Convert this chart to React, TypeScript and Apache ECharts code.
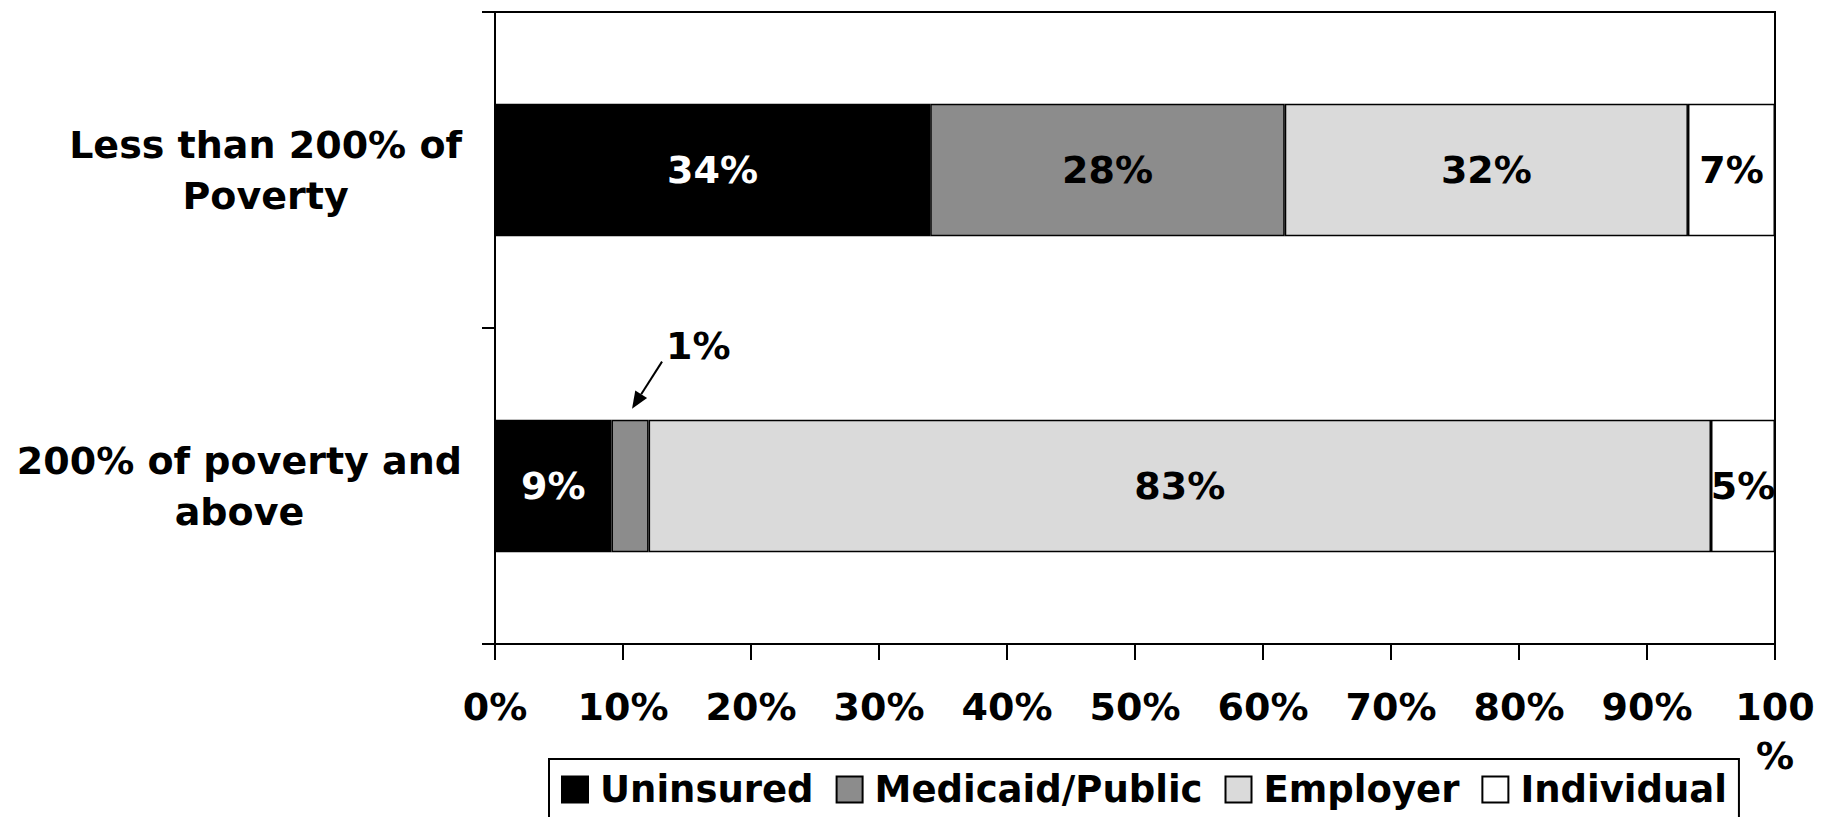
import React, { useEffect, useRef } from 'react';
import * as echarts from 'echarts';

const categories = ['Less than 200% of\nPoverty', '200% of poverty and\nabove'];
const seriesNames = ['Uninsured', 'Medicaid/Public', 'Employer', 'Individual'];
const uninsured = [34, 9.1];
const medicaidPublic = [27.7, 2.9];
const employer = [31.5, 83];
const individual = [6.8, 5];
// which in-bar labels are shown (per series, per category)
const labelShown = [
  [true, true],
  [true, false],
  [true, true],
  [true, true],
];
const calloutLabel = '1%';
const calloutCategory = 1;

const FONT = "'DejaVu Sans', Verdana, sans-serif";
const colors = ['#000000', '#8c8c8c', '#dadada', '#ffffff'];
const labelColors = ['#ffffff', '#000000', '#000000', '#000000'];

export default function App() {
  const ref = useRef<HTMLDivElement>(null);
  useEffect(() => {
    document.body.style.margin = '0';
    const chart = echarts.init(ref.current!, undefined, { renderer: 'svg' });
    const values = [uninsured, medicaidPublic, employer, individual];
    const barWidthRatio = 0.42;
    chart.setOption({
      animation: false,
      backgroundColor: '#ffffff',
      grid: {
        left: 495,
        right: 55,
        top: 12,
        bottom: 173,
        show: true,
        borderColor: '#000',
        borderWidth: 2,
        backgroundColor: 'transparent',
      },
      legend: {
        data: seriesNames,
        left: 549,
        top: 759,
        icon: 'rect',
        itemWidth: 26,
        itemHeight: 26,
        itemGap: 22,
        borderColor: '#000',
        borderWidth: 2,
        padding: [12, 12, 30, 12],
        textStyle: {
          fontSize: 37,
          fontWeight: 'bold',
          fontFamily: FONT,
          color: '#000',
          padding: [0, 0, 0, 7],
        },
      },
      xAxis: {
        type: 'value',
        min: 0,
        max: 100,
        interval: 10,
        splitLine: { show: false },
        axisLine: { show: true, lineStyle: { color: '#000', width: 2 } },
        axisTick: { show: true, length: 16, lineStyle: { color: '#000', width: 2 } },
        axisLabel: {
          formatter: (v: number) => (v === 100 ? '100\n%' : `${v}%`),
          fontSize: 38,
          fontWeight: 'bold',
          fontFamily: FONT,
          color: '#000',
          lineHeight: 49,
          margin: 38,
        },
      },
      yAxis: {
        type: 'category',
        inverse: true,
        data: categories,
        axisLine: { show: true, lineStyle: { color: '#000', width: 2 } },
        axisTick: { show: true, length: 13, lineStyle: { color: '#000', width: 2 } },
        axisLabel: {
          margin: 33,
          align: 'right',
          formatter: (v: string) => v.split('\n').map((l) => `{c|${l}}`).join('\n'),
          rich: {
            c: {
              align: 'center',
              fontSize: 38,
              fontWeight: 'bold',
              fontFamily: FONT,
              color: '#000',
              lineHeight: 51,
            },
          },
        },
      },
      series: seriesNames.map((name, si) => ({
        name,
        type: 'bar',
        stack: 'total',
        barWidth: `${barWidthRatio * 100}%`,
        itemStyle: { color: colors[si], borderColor: '#000', borderWidth: 1.5 },
        label: {
          show: true,
          position: 'inside',
          formatter: (p: any) => `${Math.round(p.value)}%`,
          fontSize: 38,
          fontWeight: 'bold',
          fontFamily: FONT,
          color: labelColors[si],
        },
        data: values[si].map((v, ci) => (labelShown[si][ci] ? v : { value: v, label: { show: false } })),
      })),
    });

    // callout annotation for the small Medicaid/Public segment
    const c0 = chart.convertToPixel({ gridIndex: 0 }, [0, 0]) as number[];
    const c1 = chart.convertToPixel({ gridIndex: 0 }, [0, calloutCategory]) as number[];
    const band = Math.abs(c1[1] - c0[1]);
    const mid = chart.convertToPixel({ gridIndex: 0 }, [
      uninsured[calloutCategory] + medicaidPublic[calloutCategory] / 2,
      calloutCategory,
    ]) as number[];
    const barTop = c1[1] - (band * barWidthRatio) / 2;
    const tip = [mid[0] + 2, barTop - 11];
    const tail = [tip[0] + 30, tip[1] - 47];
    const dx = tip[0] - tail[0];
    const dy = tip[1] - tail[1];
    const len = Math.sqrt(dx * dx + dy * dy);
    const ux = dx / len;
    const uy = dy / len;
    const headLen = 17;
    const headHalf = 7;
    const base = [tip[0] - ux * headLen, tip[1] - uy * headLen];
    const px = -uy;
    const py = ux;
    chart.setOption({
      graphic: [
        {
          type: 'line',
          shape: { x1: tail[0], y1: tail[1], x2: base[0], y2: base[1] },
          style: { stroke: '#000', lineWidth: 2 },
        },
        {
          type: 'polygon',
          shape: {
            points: [
              [tip[0], tip[1]],
              [base[0] + px * headHalf, base[1] + py * headHalf],
              [base[0] - px * headHalf, base[1] - py * headHalf],
            ],
          },
          style: { fill: '#000' },
        },
        {
          type: 'text',
          x: tip[0] + 34,
          y: tip[1] - 63,
          style: {
            text: calloutLabel,
            fontSize: 38,
            fontWeight: 'bold',
            fontFamily: FONT,
            fill: '#000',
            verticalAlign: 'middle',
            align: 'left',
          },
        },
      ],
    });
    return () => chart.dispose();
  }, []);
  return <div ref={ref} style={{ width: 1830, height: 817 }} />;
}
